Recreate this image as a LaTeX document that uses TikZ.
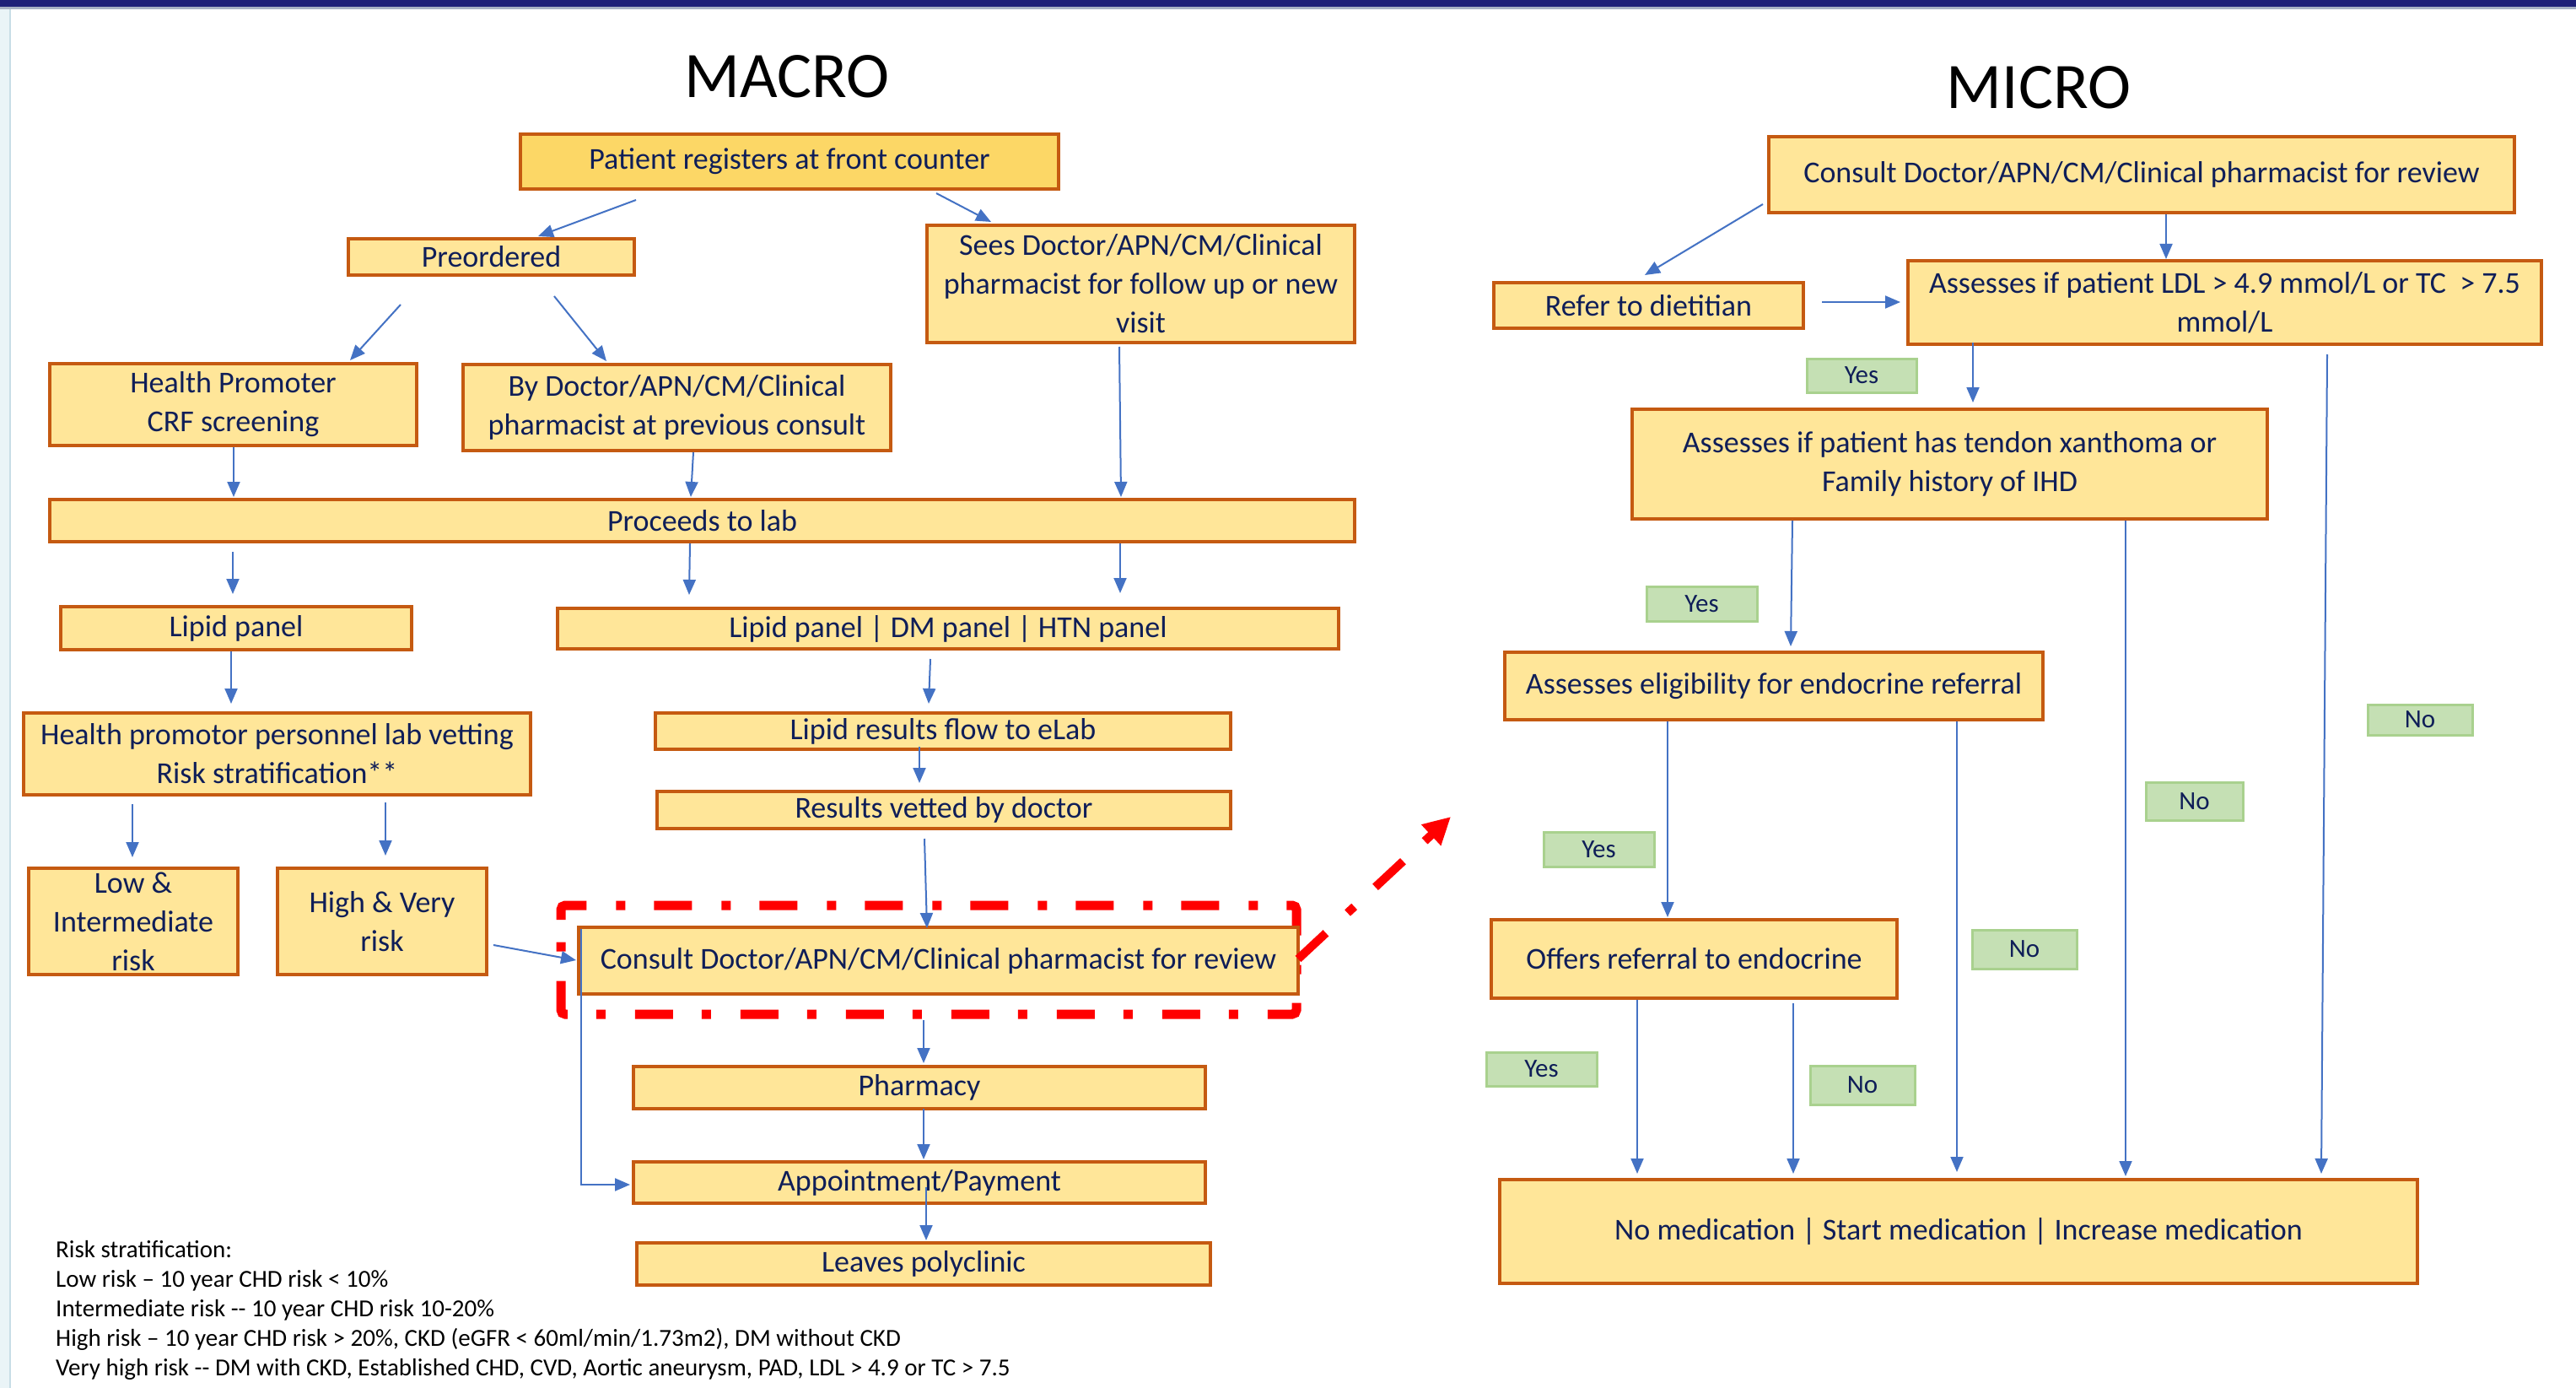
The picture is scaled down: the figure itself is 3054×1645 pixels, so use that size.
\documentclass[tikz,border=0pt]{standalone}
\usepackage{fontspec}
\setmainfont{Carlito}
\usetikzlibrary{arrows.meta,calc}
\definecolor{boxfill}{RGB}{255,230,153}
\definecolor{regfill}{RGB}{252,215,102}
\definecolor{boxline}{RGB}{197,90,17}
\definecolor{txt}{RGB}{15,30,88}
\definecolor{arrblue}{RGB}{68,114,196}
\definecolor{gfill}{RGB}{197,224,180}
\definecolor{gline}{RGB}{169,209,142}
\definecolor{topnavy}{RGB}{30,32,120}
\definecolor{topgray}{RGB}{168,178,196}
\definecolor{leftc}{RGB}{234,244,247}
\definecolor{leftl}{RGB}{200,221,230}
\newcommand{\mybox}[7]{%
  \node[#6, minimum width={#4-#2-4}, minimum height={#5-#3-4}] (#1) at ({(#2+#4)/2},{(#3+#5)/2}) {#7};}
\tikzset{
  box/.style={draw=boxline, fill=boxfill, line width=4pt, inner sep=0pt, text=txt, align=center, font=\fontsize{36}{46}\selectfont},
  regbox/.style={box, fill=regfill},
  lbl/.style={draw=gline, fill=gfill, line width=3pt, inner sep=0pt, text=txt, font=\fontsize{31}{38}\selectfont},
  arr/.style={draw=arrblue, line width=2pt, -{Triangle[length=18pt,width=15pt]}},
  leg/.style={anchor=base west, inner sep=0pt, font=\fontsize{29}{35}\selectfont, text=black},
  title/.style={inner sep=0pt, font=\fontsize{77}{90}\selectfont, text=black},
  redline/.style={draw=red, line width=11pt, dash pattern=on 45pt off 35pt on 11pt off 34pt}
}
\begin{document}
\begin{tikzpicture}[x=1pt,y=-1pt]
\useasboundingbox (0,0) rectangle (3054,1645);
\fill[white] (0,0) rectangle (3054,1645);
% frame decorations
\fill[topnavy] (0,0) rectangle (3054,8);
\fill[topgray] (0,8) rectangle (3054,11);
\fill[leftc] (0,11) rectangle (12,1645);
\draw[leftl, line width=1.5pt] (12,11) -- (12,1645);

% titles
\node[title] (macro) at (933,91) {MACRO};
\node[title] (micro) at (2417,104) {MICRO};

% red highlight frame (behind the consult box)
\draw[redline, rounded corners=5pt] (665,1095) -- (665,1073) -- (1537,1073) -- (1537,1202) -- (665,1202) -- cycle;
\coordinate (redtip) at (1720,968);

% MACRO boxes
\mybox{reg}{615}{157}{1257}{226}{regbox}{Patient registers at front counter}
\mybox{pre}{411}{281}{754}{328}{box}{Preordered}
\mybox{sees}{1097}{265}{1608}{408}{box}{Sees Doctor/APN/CM/Clinical\\pharmacist for follow up or new\\visit}
\mybox{hp}{57}{429}{496}{530}{box}{Health Promoter\\CRF screening}
\mybox{bydoc}{547}{430}{1058}{536}{box}{By Doctor/APN/CM/Clinical\\pharmacist at previous consult}
\mybox{lab}{57}{590}{1608}{644}{box}{Proceeds to lab}
\mybox{lipid}{70}{717}{490}{772}{box}{Lipid panel}
\mybox{panels}{659}{719}{1589}{771}{box}{Lipid panel | DM panel | HTN panel}
\mybox{hpv}{26}{843}{631}{944}{box}{Health promotor personnel lab vetting\\Risk stratification**}
\mybox{elab}{775}{843}{1461}{890}{box}{Lipid results flow to eLab}
\mybox{vetted}{777}{936}{1461}{984}{box}{Results vetted by doctor}
\mybox{low}{32}{1027}{284}{1157}{box}{Low \&\\Intermediate\\risk}
\mybox{high}{327}{1027}{579}{1157}{box}{High \& Very\\risk}
\mybox{consult}{684}{1097}{1541}{1180}{box}{Consult Doctor/APN/CM/Clinical pharmacist for review}
\mybox{pharm}{749}{1262}{1431}{1316}{box}{Pharmacy}
\mybox{appt}{749}{1375}{1431}{1428}{box}{Appointment/Payment}
\mybox{leaves}{753}{1471}{1437}{1525}{box}{Leaves polyclinic}

% MICRO boxes
\mybox{mconsult}{2095}{160}{2983}{254}{box}{Consult Doctor/APN/CM/Clinical pharmacist for review}
\mybox{refer}{1769}{333}{2140}{391}{box}{Refer to dietitian}
\mybox{ldl}{2260}{307}{3015}{410}{box}{Assesses if patient LDL > 4.9 mmol/L or TC\ \ > 7.5\\mmol/L}
\mybox{tendon}{1933}{483}{2690}{617}{box}{Assesses if patient has tendon xanthoma or\\Family history of IHD}
\mybox{elig}{1782}{771}{2424}{855}{box}{Assesses eligibility for endocrine referral}
\mybox{offers}{1766}{1088}{2251}{1185}{box}{Offers referral to endocrine}
\mybox{final}{1776}{1396}{2868}{1523}{box}{No medication | Start medication | Increase medication}

% labels
\mybox{yes1}{2140}{423}{2274}{467}{lbl}{Yes}
\mybox{yes2}{1950}{693}{2085}{738}{lbl}{Yes}
\mybox{yes3}{1828}{984}{1963}{1029}{lbl}{Yes}
\mybox{yes4}{1760}{1245}{1895}{1289}{lbl}{Yes}
\mybox{no1}{2805}{833}{2933}{873}{lbl}{No}
\mybox{no2}{2542}{925}{2661}{974}{lbl}{No}
\mybox{no3}{2336}{1100}{2464}{1150}{lbl}{No}
\mybox{no4}{2144}{1261}{2272}{1311}{lbl}{No}

% MACRO connectors
\draw[arr] ($(reg.south west)+(139,11)$) -- ($(pre.north west)+(227,-1)$);
\draw[arr] ($(reg.south west)+(495,3)$) -- ($(sees.north west)+(78,-2)$);
\draw[arr] ($(pre.south west)+(64,33)$) -- ($(hp.north west)+(358,-2)$);
\draw[arr] ($(pre.south west)+(246,23)$) -- ($(bydoc.north west)+(172,-2)$);
\draw[arr] ($(hp.south west)+(220,0)$) -- ($(lab.north west)+(220,-1)$);
\draw[arr] ($(bydoc.south west)+(275,0)$) -- ($(lab.north west)+(762,-1)$);
\draw[arr] ($(sees.south west)+(230,3)$) -- ($(lab.north west)+(1272,-1)$);
\draw[arr] ($(lab.south west)+(219,10)$) -- ($(lipid.north west)+(206,-13)$);
\draw[arr] ($(lab.south west)+(761,0)$) -- ($(panels.north west)+(158,-14)$);
\draw[arr] ($(lab.south west)+(1271,0)$) -- ($(panels.north west)+(669,-16)$);
\draw[arr] ($(panels.south west)+(444,10)$) -- ($(elab.north west)+(326,-9)$);
\draw[arr] ($(lipid.south west)+(204,0)$) -- ($(hpv.north west)+(248,-9)$);
\draw[arr] ($(hpv.south west)+(131,9)$) -- ($(low.north west)+(125,-11)$);
\draw[arr] ($(hpv.south west)+(431,7)$) -- ($(high.north west)+(130,-13)$);
\draw[arr] ($(elab.south west)+(315,-5)$) -- ($(vetted.north west)+(313,-8)$);
\draw[arr] ($(vetted.south west)+(319,10)$) -- ($(consult.north west)+(415,3)$);
\draw[arr] ($(high.north east)+(6,93)$) -- ($(consult.north west)+(-1,41)$);
\draw[arr] ($(consult.north west)+(5,4)$) |- ($(appt.north west)+(-2,29)$);
\draw[arr] ($(consult.south west)+(411,29)$) -- ($(pharm.north west)+(346,-2)$);
\draw[arr] ($(pharm.south west)+(346,-2)$) -- ($(appt.north west)+(346,-1)$);
\draw[arr] ($(appt.south west)+(349,-21)$) -- ($(leaves.north west)+(345,-1)$);
\draw[redline, line width=10pt, -{Triangle[length=32pt,width=32pt]}] ($(consult.east)+(-2,-2)$) -- (redtip);

% MICRO connectors
\draw[arr] ($(mconsult.south west)+(-5,-12)$) -- ($(refer.north west)+(181,-7)$);
\draw[arr] ($(refer.north east)+(20,25)$) -- ($(ldl.north west)+(-7,51)$);
\draw[arr] ($(mconsult.south west)+(473,0)$) -- ($(ldl.north west)+(308,0)$);
\draw[arr] ($(ldl.south west)+(79,-4)$) -- ($(tendon.north west)+(406,-6)$);
\draw[arr] ($(tendon.south west)+(192,0)$) -- ($(elig.north west)+(341,-5)$);
\draw[arr] ($(elig.south west)+(195,0)$) -- ($(offers.north west)+(211,-1)$);
\draw[arr] ($(elig.south west)+(538,0)$) -- ($(final.north west)+(544,-7)$);
\draw[arr] ($(offers.south west)+(175,0)$) -- ($(final.north west)+(165,-5)$);
\draw[arr] ($(offers.south west)+(360,4)$) -- ($(final.north west)+(350,-5)$);
\draw[arr] ($(tendon.south west)+(587,0)$) -- ($(final.north west)+(744,-2)$);
\draw[arr] ($(ldl.south west)+(499,10)$) -- ($(final.north west)+(976,-5)$);

% legend
\node[leg] (leg1) at (66,1490) {Risk stratification:};
\node[leg] (leg2) at (66,1525) {Low risk – 10 year CHD risk < 10\%};
\node[leg] (leg3) at (66,1560) {Intermediate risk -{}- 10 year CHD risk 10-20\%};
\node[leg] (leg4) at (66,1595) {High risk – 10 year CHD risk > 20\%, CKD (eGFR < 60ml/min/1.73m2), DM without CKD};
\node[leg] (leg5) at (66,1630) {Very high risk -{}- DM with CKD, Established CHD, CVD, Aortic aneurysm, PAD, LDL > 4.9 or TC > 7.5};
\end{tikzpicture}
\end{document}
